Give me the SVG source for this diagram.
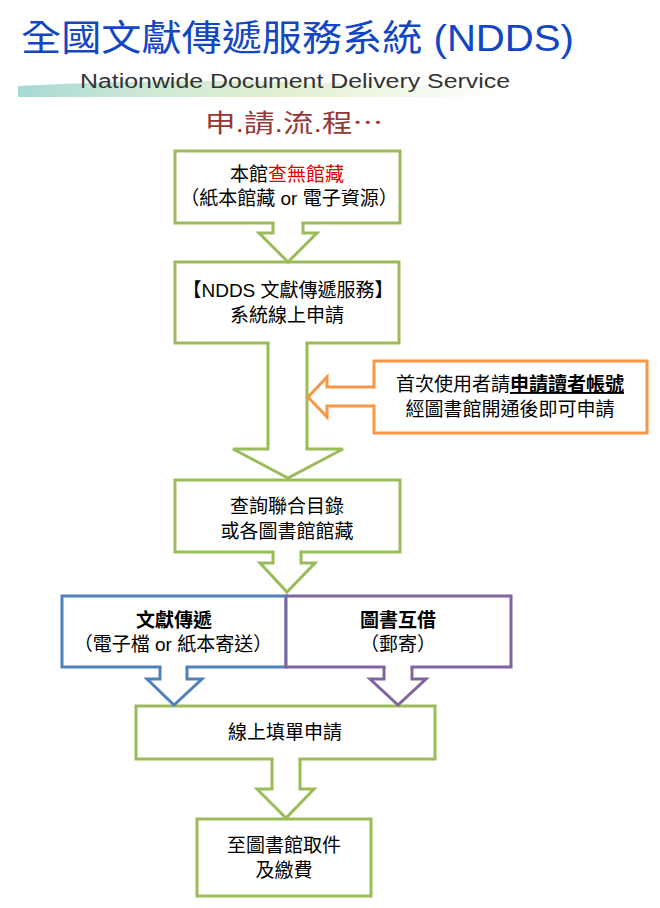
<svg xmlns="http://www.w3.org/2000/svg" width="660" height="908" viewBox="0 0 660 908">
<defs>
<linearGradient id="strip" x1="0" y1="0" x2="1" y2="0">
<stop offset="0" stop-color="#a6d9d6"/>
<stop offset="0.25" stop-color="#cde8d4"/>
<stop offset="0.55" stop-color="#e2f0d0"/>
<stop offset="1" stop-color="#ffffff"/>
</linearGradient>
<style>
.t{font-family:"Liberation Sans","Noto Sans CJK TC",sans-serif;font-size:19px;fill:#000;text-anchor:middle}
.b{font-weight:bold}
.box{fill:#fff;stroke-width:3}
.g{stroke:#9bbb59}
.bl{stroke:#4f81bd}
.pu{stroke:#8064a2}
.or{stroke:#f79646}
.af{stroke:none;fill:#fff}
.as{fill:none;stroke-width:3;stroke-linejoin:miter}
</style>
</defs>
<rect width="660" height="908" fill="#fff"/>
<g id="header">
<path d="M18,97 L18,86 Q180,78 330,83 Q430,86 505,88 L505,97 Z" fill="url(#strip)"/>
<text x="21" y="51" font-family="Liberation Sans,'Noto Sans CJK TC',sans-serif" font-size="36" fill="#1246c4" textLength="553" lengthAdjust="spacingAndGlyphs">全國文獻傳遞服務系統 (NDDS)</text>
<text x="80" y="88" font-family="Liberation Sans,sans-serif" font-size="20" fill="#333" textLength="430" lengthAdjust="spacingAndGlyphs">Nationwide Document Delivery Service</text>
<text x="205" y="132" font-family="Liberation Sans,'Noto Sans CJK TC',sans-serif" font-size="25" fill="#953735" textLength="178" lengthAdjust="spacingAndGlyphs">申.請.流.程<tspan font-family="'Noto Sans CJK TC',sans-serif">…</tspan></text>
</g>
<g id="n1">
<rect class="box g" x="175" y="151" width="225" height="72"/>
<text class="t" x="287" y="181">本館<tspan fill="#e00000">查無館藏</tspan></text>
<text class="t" x="289" y="205">（紙本館藏 or 電子資源）</text>
</g>
<g id="n2">
<rect class="box g" x="175" y="262" width="224" height="81"/>
<text class="t" x="288" y="297" fill="#222">【NDDS 文獻傳遞服務】</text>
<text class="t" x="287" y="322">系統線上申請</text>
</g>
<g id="n3">
<rect class="box or" x="374" y="361" width="273" height="72"/>
<text class="t" x="510" y="391">首次使用者請<tspan class="b" text-decoration="underline">申請讀者帳號</tspan></text>
<text class="t" x="510" y="416">經圖書館開通後即可申請</text>
</g>
<g id="n4">
<rect class="box g" x="175" y="480" width="225" height="72"/>
<text class="t" x="287" y="513">查詢聯合目錄</text>
<text class="t" x="287" y="538">或各圖書館館藏</text>
</g>
<g id="n5">
<rect class="box bl" x="62" y="596" width="224" height="71"/>
<text class="t b" x="174" y="627">文獻傳遞</text>
<text class="t" x="173" y="651">（電子檔 or 紙本寄送）</text>
</g>
<g id="n6">
<rect class="box pu" x="286" y="596" width="225" height="71"/>
<text class="t b" x="398" y="627">圖書互借</text>
<text class="t" x="398" y="651">（郵寄）</text>
</g>
<g id="n7">
<rect class="box g" x="136" y="706" width="299" height="53"/>
<text class="t" x="285" y="739">線上填單申請</text>
</g>
<g id="n8">
<rect class="box g" x="197" y="819" width="174" height="77"/>
<text class="t" x="284" y="852">至圖書館取件</text>
<text class="t" x="284" y="877">及繳費</text>
</g>
<g id="connectors">
<path class="af" d="M274.5,220 V233 H259 L288,262 L317,233 H301.5 V220 Z"/>
<path class="as g" d="M273,223 V233 H259 L288,262 L317,233 H303 V223"/>
<path class="af" d="M269.5,340 V449 H233 L288,478 L343,449 H305.5 V340 Z"/>
<path class="as g" d="M268,343 V449 H233 L288,478 L343,449 H307 V343"/>
<path class="af" d="M377,388.5 H327 V377 L308,397 L327,417 V404.5 H377 Z"/>
<path class="as or" d="M374,387 H327 V377 L308,397 L327,417 V406 H374"/>
<path class="af" d="M274.5,549 V563 H260 L287,592 L315,563 H299.5 V549 Z"/>
<path class="as g" d="M273,552 V563 H260 L287,592 L315,563 H301 V552"/>
<path class="af" d="M161.5,664 V679 H147 L174,705 L202,679 H185.5 V664 Z"/>
<path class="as bl" d="M160,667 V679 H147 L174,705 L202,679 H187 V667"/>
<path class="af" d="M385.5,664 V679 H370 L398,705 L426,679 H410.5 V664 Z"/>
<path class="as pu" d="M384,667 V679 H370 L398,705 L426,679 H412 V667"/>
<path class="af" d="M273.5,756 V789 H257 L286,818 L314,789 H298.5 V756 Z"/>
<path class="as g" d="M272,759 V789 H257 L286,818 L314,789 H300 V759"/>
</g>
</svg>
